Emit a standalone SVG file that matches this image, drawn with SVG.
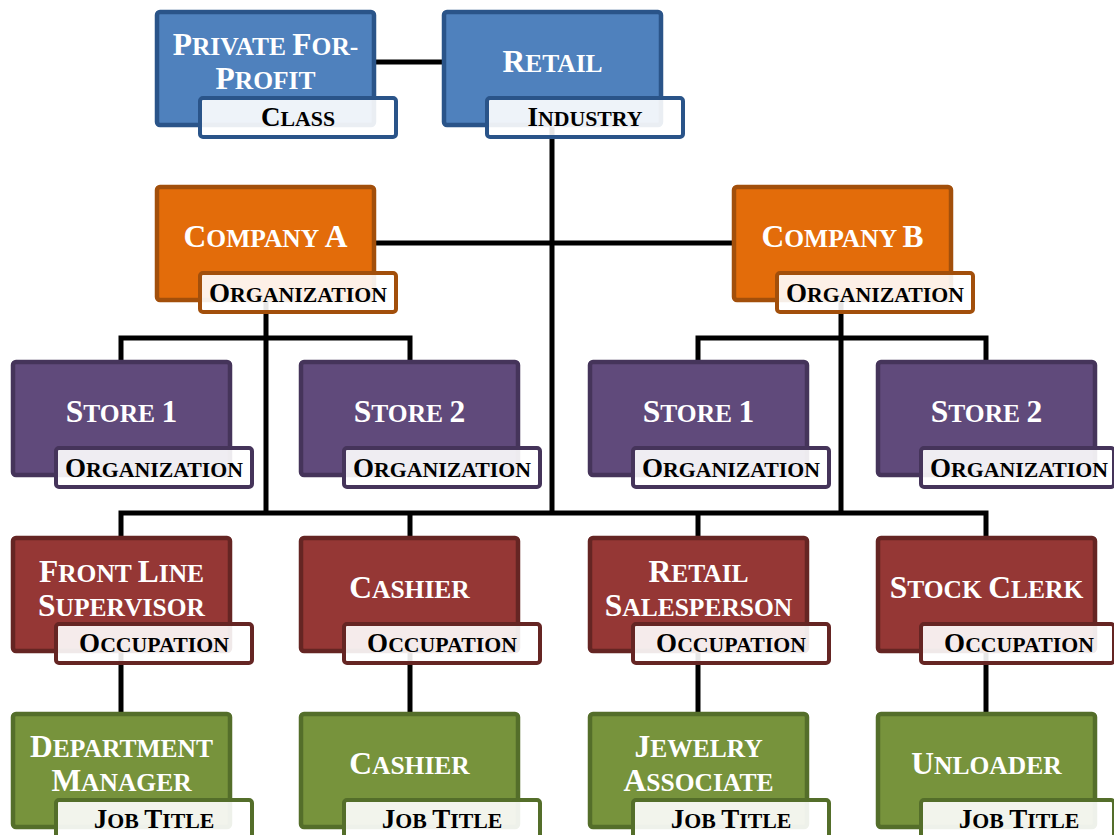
<svg xmlns="http://www.w3.org/2000/svg" width="1114" height="835" viewBox="0 0 1114 835">
<style>
.bx{stroke-width:4.5}
.lb{fill:#ffffff;fill-opacity:0.9;stroke-width:4}
.t{font-family:"Liberation Serif","Times New Roman",serif;font-weight:bold;font-size:25.5px;fill:#ffffff;text-anchor:middle}
.t .b{font-size:31.5px}
.l{font-family:"Liberation Serif","Times New Roman",serif;font-weight:bold;font-size:21.8px;fill:#000000;text-anchor:middle}
.l .b{font-size:27px}
.blue .bx{fill:#4F81BD;stroke:#2A5489}.blue .lb{stroke:#2A5489}
.orange .bx{fill:#E36C0A;stroke:#A24F0B}.orange .lb{stroke:#A24F0B}
.purple .bx{fill:#604A7B;stroke:#45345A}.purple .lb{stroke:#45345A}
.red .bx{fill:#953735;stroke:#652523}.red .lb{stroke:#652523}
.green .bx{fill:#77933C;stroke:#546E2A}.green .lb{stroke:#546E2A}
.cn{fill:none;stroke:#000000;stroke-width:5;stroke-linejoin:miter}
</style>
<rect width="1114" height="835" fill="#ffffff"/>
<g id="connectors" class="cn">
<path d="M375 62H444"/>
<path d="M552 125V513"/>
<path d="M374 243H734"/>
<path d="M266 300V513"/>
<path d="M841 300V513"/>
<path d="M121 362V338H410V362"/>
<path d="M698 362V338H986V362"/>
<path d="M121 538V513H986V538"/>
<path d="M410 513V538"/>
<path d="M698 513V538"/>
<path d="M121 651V714"/>
<path d="M410 651V714"/>
<path d="M698 651V714"/>
<path d="M986 651V714"/>
</g>
<g id="private-for-profit" class="blue">
<rect class="bx" x="157" y="12" width="217" height="113" rx="3"/>
<text class="t" x="265.5" y="55"><tspan class="b">P</tspan>RIVATE <tspan class="b">F</tspan>OR-</text>
<text class="t" x="265.5" y="89"><tspan class="b">P</tspan>ROFIT</text>
<rect class="lb" x="200" y="98" width="196" height="39" rx="3"/>
<text class="l" x="298" y="126"><tspan class="b">C</tspan>LASS</text>
</g>
<g id="retail" class="blue">
<rect class="bx" x="444" y="12" width="217" height="113" rx="3"/>
<text class="t" x="552.5" y="72"><tspan class="b">R</tspan>ETAIL</text>
<rect class="lb" x="487" y="98" width="196" height="39" rx="3"/>
<text class="l" x="585" y="126"><tspan class="b">I</tspan>NDUSTRY</text>
</g>
<g id="company-a" class="orange">
<rect class="bx" x="157" y="187" width="217" height="113" rx="3"/>
<text class="t" x="265.5" y="247"><tspan class="b">C</tspan>OMPANY <tspan class="b">A</tspan></text>
<rect class="lb" x="200" y="273" width="196" height="39" rx="3"/>
<text class="l" x="298" y="302"><tspan class="b">O</tspan>RGANIZATION</text>
</g>
<g id="company-b" class="orange">
<rect class="bx" x="734" y="187" width="217" height="113" rx="3"/>
<text class="t" x="842.5" y="247"><tspan class="b">C</tspan>OMPANY <tspan class="b">B</tspan></text>
<rect class="lb" x="777" y="273" width="196" height="39" rx="3"/>
<text class="l" x="875" y="302"><tspan class="b">O</tspan>RGANIZATION</text>
</g>
<g id="store-a1" class="purple">
<rect class="bx" x="13" y="362" width="217" height="113" rx="3"/>
<text class="t" x="121.5" y="422"><tspan class="b">S</tspan>TORE <tspan class="b">1</tspan></text>
<rect class="lb" x="56" y="448" width="196" height="39" rx="3"/>
<text class="l" x="154" y="477"><tspan class="b">O</tspan>RGANIZATION</text>
</g>
<g id="store-a2" class="purple">
<rect class="bx" x="301" y="362" width="217" height="113" rx="3"/>
<text class="t" x="409.5" y="422"><tspan class="b">S</tspan>TORE <tspan class="b">2</tspan></text>
<rect class="lb" x="344" y="448" width="196" height="39" rx="3"/>
<text class="l" x="442" y="477"><tspan class="b">O</tspan>RGANIZATION</text>
</g>
<g id="store-b1" class="purple">
<rect class="bx" x="590" y="362" width="217" height="113" rx="3"/>
<text class="t" x="698.5" y="422"><tspan class="b">S</tspan>TORE <tspan class="b">1</tspan></text>
<rect class="lb" x="633" y="448" width="196" height="39" rx="3"/>
<text class="l" x="731" y="477"><tspan class="b">O</tspan>RGANIZATION</text>
</g>
<g id="store-b2" class="purple">
<rect class="bx" x="878" y="362" width="217" height="113" rx="3"/>
<text class="t" x="986.5" y="422"><tspan class="b">S</tspan>TORE <tspan class="b">2</tspan></text>
<rect class="lb" x="921" y="448" width="193" height="39" rx="3"/>
<text class="l" x="1019" y="477"><tspan class="b">O</tspan>RGANIZATION</text>
</g>
<g id="occ-front-line-supervisor" class="red">
<rect class="bx" x="13" y="538" width="217" height="113" rx="3"/>
<text class="t" x="121.5" y="582"><tspan class="b">F</tspan>RONT <tspan class="b">L</tspan>INE</text>
<text class="t" x="121.5" y="616"><tspan class="b">S</tspan>UPERVISOR</text>
<rect class="lb" x="56" y="624" width="196" height="39" rx="3"/>
<text class="l" x="154" y="652"><tspan class="b">O</tspan>CCUPATION</text>
</g>
<g id="occ-cashier" class="red">
<rect class="bx" x="301" y="538" width="217" height="113" rx="3"/>
<text class="t" x="409.5" y="598"><tspan class="b">C</tspan>ASHIER</text>
<rect class="lb" x="344" y="624" width="196" height="39" rx="3"/>
<text class="l" x="442" y="652"><tspan class="b">O</tspan>CCUPATION</text>
</g>
<g id="occ-retail-salesperson" class="red">
<rect class="bx" x="590" y="538" width="217" height="113" rx="3"/>
<text class="t" x="698.5" y="582"><tspan class="b">R</tspan>ETAIL</text>
<text class="t" x="698.5" y="616"><tspan class="b">S</tspan>ALESPERSON</text>
<rect class="lb" x="633" y="624" width="196" height="39" rx="3"/>
<text class="l" x="731" y="652"><tspan class="b">O</tspan>CCUPATION</text>
</g>
<g id="occ-stock-clerk" class="red">
<rect class="bx" x="878" y="538" width="217" height="113" rx="3"/>
<text class="t" x="986.5" y="598"><tspan class="b">S</tspan>TOCK <tspan class="b">C</tspan>LERK</text>
<rect class="lb" x="921" y="624" width="193" height="39" rx="3"/>
<text class="l" x="1019" y="652"><tspan class="b">O</tspan>CCUPATION</text>
</g>
<g id="job-department-manager" class="green">
<rect class="bx" x="13" y="714" width="217" height="113" rx="3"/>
<text class="t" x="121.5" y="757"><tspan class="b">D</tspan>EPARTMENT</text>
<text class="t" x="121.5" y="791"><tspan class="b">M</tspan>ANAGER</text>
<rect class="lb" x="56" y="800" width="196" height="39" rx="3"/>
<text class="l" x="154" y="828"><tspan class="b">J</tspan>OB <tspan class="b">T</tspan>ITLE</text>
</g>
<g id="job-cashier" class="green">
<rect class="bx" x="301" y="714" width="217" height="113" rx="3"/>
<text class="t" x="409.5" y="774"><tspan class="b">C</tspan>ASHIER</text>
<rect class="lb" x="344" y="800" width="196" height="39" rx="3"/>
<text class="l" x="442" y="828"><tspan class="b">J</tspan>OB <tspan class="b">T</tspan>ITLE</text>
</g>
<g id="job-jewelry-associate" class="green">
<rect class="bx" x="590" y="714" width="217" height="113" rx="3"/>
<text class="t" x="698.5" y="757"><tspan class="b">J</tspan>EWELRY</text>
<text class="t" x="698.5" y="791"><tspan class="b">A</tspan>SSOCIATE</text>
<rect class="lb" x="633" y="800" width="196" height="39" rx="3"/>
<text class="l" x="731" y="828"><tspan class="b">J</tspan>OB <tspan class="b">T</tspan>ITLE</text>
</g>
<g id="job-unloader" class="green">
<rect class="bx" x="878" y="714" width="217" height="113" rx="3"/>
<text class="t" x="986.5" y="774"><tspan class="b">U</tspan>NLOADER</text>
<rect class="lb" x="921" y="800" width="193" height="39" rx="3"/>
<text class="l" x="1019" y="828"><tspan class="b">J</tspan>OB <tspan class="b">T</tspan>ITLE</text>
</g>
</svg>
